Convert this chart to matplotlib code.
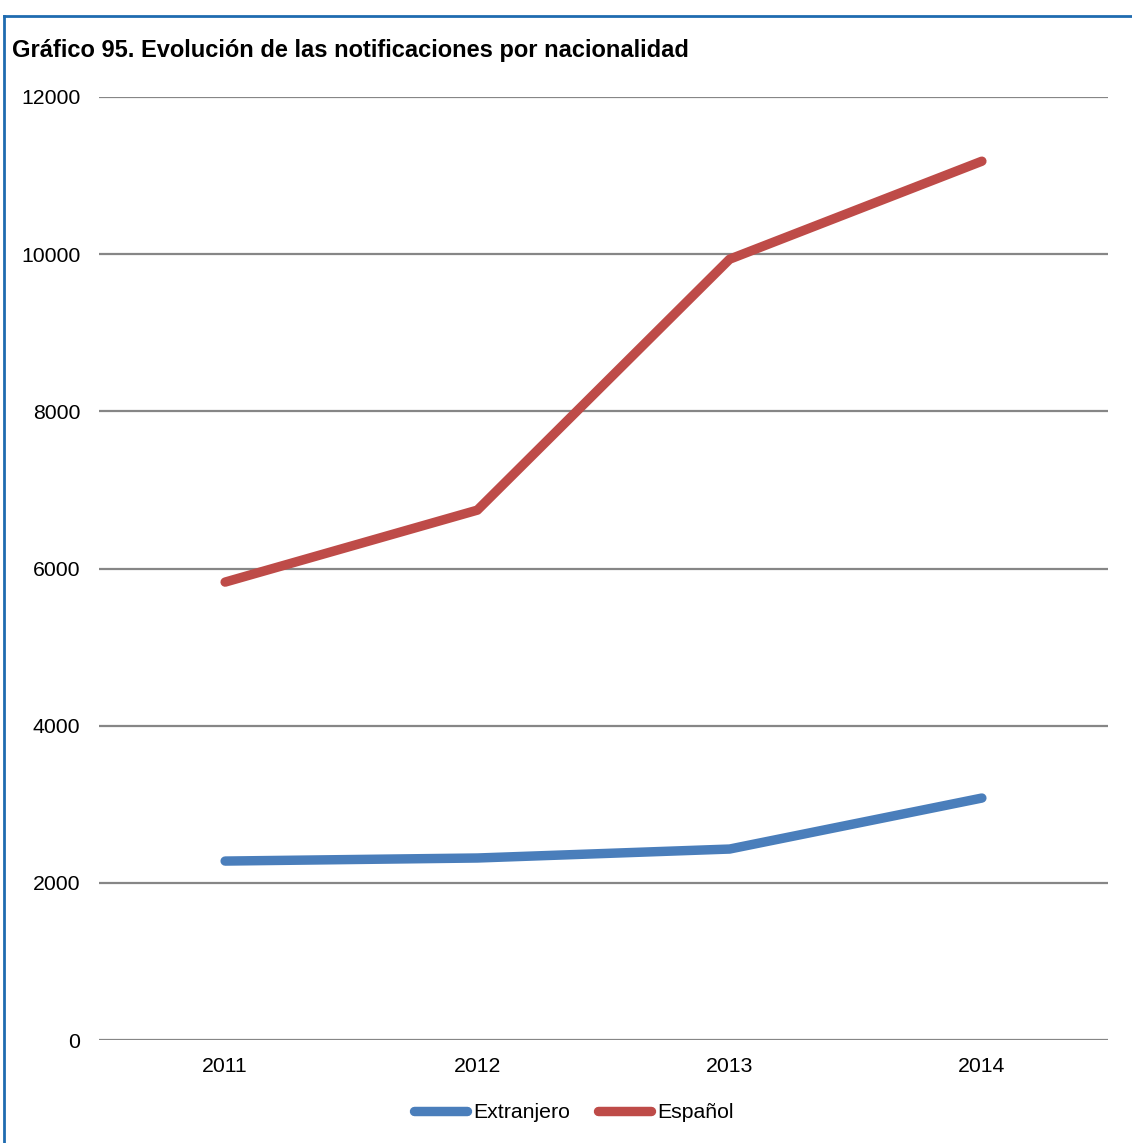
import matplotlib.pyplot as plt
from matplotlib.lines import Line2D

years = ["2011", "2012", "2013", "2014"]
extranjero = [2277, 2316, 2430, 3079]
espanol = [5827, 6743, 9936, 11183]
yticks = [0, 2000, 4000, 6000, 8000, 10000, 12000]

plt.rcParams["font.family"] = ["Liberation Sans", "DejaVu Sans"]

fig = plt.figure(figsize=(11.32, 11.43), dpi=100)
ax = fig.add_axes([99 / 1132, 1 - 1040 / 1143, (1108 - 99) / 1132, (1040 - 97) / 1143])

x = range(len(years))
l1, = ax.plot(x, extranjero, color="#4A7EBB", lw=6.8, solid_capstyle="round", solid_joinstyle="round", zorder=3)
l2, = ax.plot(x, espanol, color="#BE4B48", lw=6.8, solid_capstyle="round", solid_joinstyle="round", zorder=3)

ax.set_xlim(-0.5, 3.5)
ax.set_ylim(0, 12000)
ax.set_yticks(yticks)
ax.set_yticklabels([str(v) for v in yticks])
ax.set_xticks(list(x))
ax.set_xticklabels(years)
ax.yaxis.grid(True, color="#868686", lw=1.6)
ax.set_axisbelow(True)
for s in ax.spines.values():
    s.set_visible(False)
ax.tick_params(length=0, labelsize=15.3, colors="black")
ax.tick_params(axis="y", pad=13.5)
ax.tick_params(axis="x", pad=12)

fig.text(12 / 1132, 1 - 51 / 1143, "Gráfico 95. Evolución de las notificaciones por nacionalidad",
         fontsize=17, fontweight="bold", va="center", ha="left")

# outer frame (top and left edges visible)
fig.add_artist(Line2D([4 / 1132, 1], [1 - 16 / 1143, 1 - 16 / 1143], color="#1F6BB0", lw=2))
fig.add_artist(Line2D([4 / 1132, 4 / 1132], [0, 1 - 16 / 1143], color="#1F6BB0", lw=2))

fig.legend([l1, l2], ["Extranjero", "Español"], loc="center", bbox_to_anchor=(574 / 1132, 1 - 1113 / 1143),
           ncol=2, frameon=False, fontsize=15.3, handlelength=2.5, handletextpad=0.3, columnspacing=1.3)

fig.savefig("out.png", dpi=100)
